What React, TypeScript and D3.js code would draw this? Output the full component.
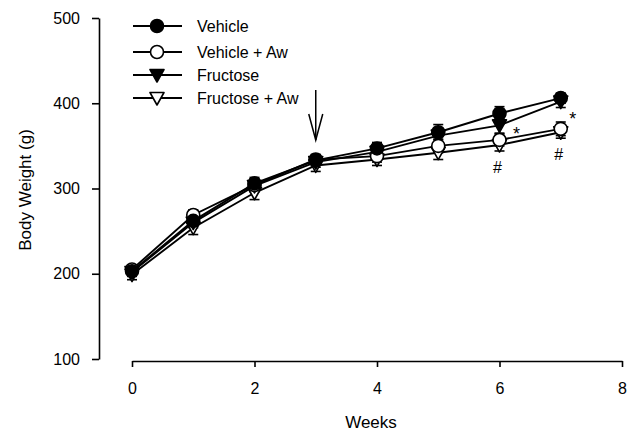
import * as d3 from 'd3';
import React, { useRef, useEffect } from 'react';

// weeks of treatment
const weeks = [0, 1, 2, 3, 4, 5, 6, 7];

// mean body weight (g) per group
const vehicle = [203, 262, 306, 333, 347, 366, 388, 406];
const vehicleAw = [205, 269, 304, 334, 338, 350, 357, 370];
const fructose = [202, 260, 303, 331, 343, 362, 374, 402];
const fructoseAw = [199, 254, 295, 327, 334, 342, 351, 366];

// error bars (SEM)
const vehicleErr = [6, 6, 7, 6, 7, 9, 8, 6];
const vehicleAwErr = [5, 6, 7, 6, 7, 8, 7, 8];
const fructoseErr = [5, 6, 7, 6, 6, 8, 9, 7];
const fructoseAwErr = [6, 8, 8, 7, 7, 8, 7, 7];

const xTicks = [0, 2, 4, 6, 8];
const yTicks = [100, 200, 300, 400, 500];

const FONT = '"Liberation Sans", Arial, sans-serif';

function App() {
  const svgRef = useRef(null);

  useEffect(() => {
    const svg = d3.select(svgRef.current);
    svg.selectAll('*').remove();

    const x = d3.scaleLinear([0, 8], [132, 622]);
    const y = d3.scaleLinear([100, 500], [359, 18]);

    const series = [
      { name: 'Vehicle', values: vehicle, err: vehicleErr, shape: 'circle', fill: '#000' },
      { name: 'Vehicle + Aw', values: vehicleAw, err: vehicleAwErr, shape: 'circle', fill: '#fff' },
      { name: 'Fructose', values: fructose, err: fructoseErr, shape: 'tri', fill: '#000' },
      { name: 'Fructose + Aw', values: fructoseAw, err: fructoseAwErr, shape: 'tri', fill: '#fff' },
    ];

    // axes (detached, sigmaplot style)
    const yAxis = d3.axisLeft(y).tickValues(yTicks).tickSize(7).tickSizeOuter(0).tickPadding(12);
    const gy = svg.append('g').attr('transform', 'translate(99,0)').call(yAxis);
    const xAxis = d3.axisBottom(x).tickValues(xTicks).tickSize(6).tickSizeOuter(0).tickPadding(16);
    const gx = svg.append('g').attr('transform', 'translate(0,361)').call(xAxis);
    [gx, gy].forEach(g => {
      g.select('.domain').attr('stroke', '#000').attr('stroke-width', 1.6);
      g.selectAll('.tick line').attr('stroke', '#000').attr('stroke-width', 1.6);
      g.selectAll('.tick text').attr('font-family', FONT).attr('font-size', 16).attr('fill', '#000');
    });

    svg.append('text')
      .attr('x', 371).attr('y', 428)
      .attr('text-anchor', 'middle')
      .attr('font-family', FONT).attr('font-size', 17)
      .text('Weeks');
    svg.append('text')
      .attr('transform', 'translate(31,190) rotate(-90)')
      .attr('text-anchor', 'middle')
      .attr('font-family', FONT).attr('font-size', 17)
      .text('Body Weight (g)');

    const drawMarker = (g, shape, fill, cx, cy) => {
      if (shape === 'circle') {
        g.append('circle').attr('cx', cx).attr('cy', cy).attr('r', 6.5)
          .attr('fill', fill).attr('stroke', '#000').attr('stroke-width', 1.6);
      } else {
        g.append('path')
          .attr('d', `M${cx - 7},${cy - 5.5} L${cx + 7},${cy - 5.5} L${cx},${cy + 7} Z`)
          .attr('fill', fill).attr('stroke', '#000').attr('stroke-width', 1.6)
          .attr('stroke-linejoin', 'round');
      }
    };

    const line = d3.line().x((d, i) => x(weeks[i])).y(d => y(d));
    const plot = svg.append('g');

    series.forEach(s => {
      plot.append('path')
        .attr('d', line(s.values))
        .attr('fill', 'none').attr('stroke', '#000').attr('stroke-width', 1.9);
    });

    series.forEach(s => {
      s.values.forEach((v, i) => {
        const cx = x(weeks[i]);
        const top = y(v + s.err[i]);
        const bot = y(v - s.err[i]);
        plot.append('line').attr('x1', cx).attr('x2', cx).attr('y1', top).attr('y2', bot)
          .attr('stroke', '#000').attr('stroke-width', 1.5);
        [top, bot].forEach(yy => {
          plot.append('line').attr('x1', cx - 5).attr('x2', cx + 5).attr('y1', yy).attr('y2', yy)
            .attr('stroke', '#000').attr('stroke-width', 1.6);
        });
      });
    });

    [...series].reverse().forEach(s => {
      s.values.forEach((v, i) => drawMarker(plot, s.shape, s.fill, x(weeks[i]), y(v)));
    });

    // significance marks
    const marks = svg.append('g').attr('font-family', FONT).attr('fill', '#000');
    [6, 7].forEach((w, k) => {
      const i = weeks.indexOf(w);
      marks.append('text')
        .attr('x', x(w) + (k === 0 ? 17 : 12))
        .attr('y', y(fructose[i]) + (k === 0 ? 15 : 23))
        .attr('text-anchor', 'middle').attr('font-size', 18)
        .text('*');
      marks.append('text')
        .attr('x', x(w) - 2)
        .attr('y', y(fructoseAw[i] - fructoseAwErr[i]) + 22)
        .attr('text-anchor', 'middle').attr('font-size', 16)
        .text('#');
    });

    // arrow marking start of Aw treatment
    const ax = x(3);
    svg.append('line').attr('x1', ax).attr('x2', ax).attr('y1', 90).attr('y2', 140)
      .attr('stroke', '#000').attr('stroke-width', 1.5);
    svg.append('path').attr('d', `M${ax - 7},${114} L${ax},${140} L${ax + 7},${114}`)
      .attr('fill', 'none').attr('stroke', '#000').attr('stroke-width', 1.5);

    // legend
    const legendY = [26, 52, 75, 98];
    const legend = svg.append('g');
    series.forEach((s, i) => {
      const ly = legendY[i];
      legend.append('line').attr('x1', 133).attr('x2', 182).attr('y1', ly).attr('y2', ly)
        .attr('stroke', '#000').attr('stroke-width', 1.9);
      drawMarker(legend, s.shape, s.fill, 157, ly);
      legend.append('text')
        .attr('x', 197).attr('y', ly + 6)
        .attr('font-family', FONT).attr('font-size', 16)
        .text(s.name);
    });
  }, []);

  return (
    <svg
      ref={svgRef}
      width={635}
      height={435}
      style={{ position: 'absolute', left: 0, top: 0, background: '#fff' }}
    />
  );
}

export default App;
